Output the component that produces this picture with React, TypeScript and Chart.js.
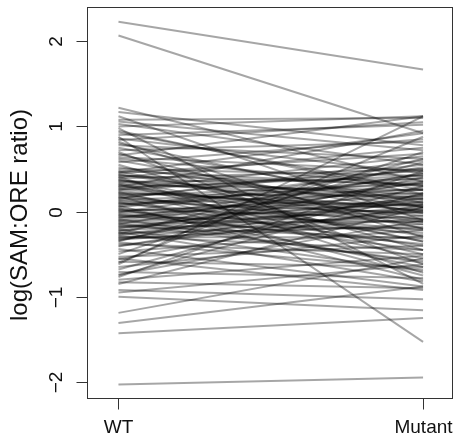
import React, { useEffect, useRef } from "react";
import { Chart, registerables } from "chart.js";

Chart.register(...registerables);

const groupLabels = ["WT", "Mutant"];
const yTickValues = [-2, -1, 0, 1, 2];
const yTitle = "log(SAM:ORE ratio)";

const wtValues = [
  2.23, 2.07, -2.03, 0.88, -1.43, -1.31, -1.19, -1.0, -0.92, 1.22,
  1.17, 1.12, 1.08, 1.03, 0.98, 0.95, 0.9, 0.86, 0.82, 0.78,
  0.75, 0.7, 0.66, 0.62, 0.58, 0.55, 0.52, 0.5, 0.47, 0.45,
  0.43, 0.41, 0.39, 0.37, 0.35, 0.33, 0.31, 0.29, 0.27, 0.25,
  0.23, 0.21, 0.19, 0.17, 0.15, 0.13, 0.11, 0.09, 0.07, 0.05,
  0.03, 0.01, -0.01, -0.03, -0.05, -0.07, -0.09, -0.11, -0.13, -0.15,
  -0.17, -0.19, -0.21, -0.23, -0.25, -0.27, -0.29, -0.31, -0.33, -0.35,
  -0.38, -0.41, -0.44, -0.47, -0.5, -0.53, -0.56, -0.59, -0.62, -0.65,
  -0.68, -0.71, -0.74, -0.77, -0.8, -0.83, -0.85, 0.48, 0.44, 0.4,
  0.36, 0.32, 0.28, 0.24, 0.2, 0.16, 0.12, 0.08, 0.04, 0.0,
  -0.04, -0.08, -0.12, -0.16, -0.2, -0.24, -0.28, -0.32, -0.34, -0.3,
  -0.26, -0.22, -0.18, -0.14, -0.1, -0.06, -0.02, 0.02, 0.06, 0.1,
  0.14, 0.18, 0.22, 0.26, 0.3, 0.34, 0.38, 0.42, 0.46, 0.6,
  0.64, 0.68, 0.72, 0.8, 0.84, 0.93, 1.0, 1.06, -0.36, -0.6,
  -0.95, -0.4, -0.55, -0.75,
];

const mutantValues = [
  1.67, 0.92, -1.95, -1.53, -1.25, -0.88, -0.55, -1.16, -1.03, 0.35,
  0.78, -0.1, 1.1, 0.55, -0.85, 0.2, 1.02, 0.45, -0.3, 0.62,
  0.1, -0.62, 1.12, 0.3, 0.85, -0.45, 0.05, 0.42, -0.2, 0.68,
  0.15, -0.72, 0.5, 0.0, 0.38, -0.35, 0.25, 0.95, -0.05, 0.48,
  -0.55, 0.18, 0.32, -0.15, 0.6, 0.08, -0.4, 0.22, -0.8, 0.4,
  -0.08, 0.12, 0.52, -0.25, 0.02, 0.28, -0.6, 0.1, -0.12, 0.45,
  -0.32, 0.05, -0.7, 0.35, -0.18, 0.15, -0.45, 0.0, -0.08, 0.58,
  -0.5, 0.2, -0.88, -0.22, 0.7, -0.4, 0.08, -0.65, 1.12, -0.28,
  0.3, -0.78, -0.1, 0.48, -0.52, -0.9, 0.05, 0.3, -0.1, 0.75,
  0.2, -0.5, 0.42, 0.02, -0.28, 0.55, -0.02, 0.36, -0.65, 0.18,
  -0.38, 0.44, 0.0, -0.2, 0.26, -0.82, 0.12, -0.15, 0.4, -0.3,
  0.62, -0.05, 0.16, -0.58, 0.34, -0.12, 0.08, -0.45, 0.5, -0.22,
  0.26, -0.75, 0.06, 0.65, -0.12, 0.14, -0.35, 0.32, 0.92, -0.02,
  0.48, -0.2, 0.82, 0.05, 1.05, 0.25, 1.12, 0.72, -0.68, 0.88,
  -0.62, 0.04, -0.92, 0.22,
];

const axesPlugin = {
  id: "rAxes",
  afterDraw(chart: any) {
    const ctx = chart.ctx as CanvasRenderingContext2D;
    const { left, right, top, bottom } = chart.chartArea;
    const xs = chart.scales.x;
    const ys = chart.scales.y;
    ctx.save();
    ctx.strokeStyle = "#333";
    ctx.lineWidth = 1;
    const L = Math.round(left) - 0.5;
    const R = Math.round(right) + 0.5;
    const T = Math.round(top) + 0.5;
    const B = Math.round(bottom) + 0.5;
    ctx.strokeRect(L, T, R - L, B - T);
    ctx.fillStyle = "#111";
    ctx.font = '19px "Liberation Sans", Arial, sans-serif';
    yTickValues.forEach((v) => {
      const y = Math.round(ys.getPixelForValue(v)) + 0.5;
      ctx.beginPath();
      ctx.moveTo(L, y);
      ctx.lineTo(L - 11, y);
      ctx.stroke();
      ctx.save();
      ctx.translate(62, y);
      ctx.rotate(-Math.PI / 2);
      ctx.textAlign = "center";
      ctx.textBaseline = "alphabetic";
      ctx.fillText(String(v).replace("-", "\u2212"), 0, 0);
      ctx.restore();
    });
    groupLabels.forEach((lab, i) => {
      const x = Math.round(xs.getPixelForValue(i + 1)) + 0.5;
      ctx.beginPath();
      ctx.moveTo(x, B);
      ctx.lineTo(x, B + 11);
      ctx.stroke();
      ctx.textAlign = "center";
      ctx.textBaseline = "alphabetic";
      ctx.fillText(lab, x, 433);
    });
    ctx.save();
    ctx.font = '24px "Liberation Sans", Arial, sans-serif';
    ctx.translate(27, 215);
    ctx.rotate(-Math.PI / 2);
    ctx.textAlign = "center";
    ctx.textBaseline = "alphabetic";
    ctx.fillText(yTitle, 0, 0);
    ctx.restore();
    ctx.restore();
  },
};

export default function App() {
  const ref = useRef<HTMLCanvasElement>(null);
  useEffect(() => {
    document.body.style.margin = "0";
    const canvas = ref.current!;
    const datasets = wtValues.map((w, i) => ({
      data: [
        { x: 1, y: w },
        { x: 2, y: mutantValues[i] },
      ],
      borderColor: "rgba(0,0,0,0.35)",
      borderWidth: 2,
      pointRadius: 0,
      fill: false,
      tension: 0,
    }));
    const chart = new Chart(canvas, {
      type: "line",
      data: { datasets },
      options: {
        responsive: false,
        animation: false,
        devicePixelRatio: 1,
        layout: { padding: { left: 88, right: 5, top: 7, bottom: 41 } },
        scales: {
          x: { type: "linear", min: 0.9, max: 2.095, display: false },
          y: { type: "linear", min: -2.19, max: 2.404, display: false },
        },
        plugins: { legend: { display: false }, tooltip: { enabled: false } },
      },
      plugins: [axesPlugin],
    } as any);
    return () => chart.destroy();
  }, []);
  return (
    <div style={{ position: "absolute", left: 0, top: 0, width: 457, height: 439, background: "#fff" }}>
      <canvas ref={ref} width={457} height={439} style={{ display: "block" }} />
    </div>
  );
}
